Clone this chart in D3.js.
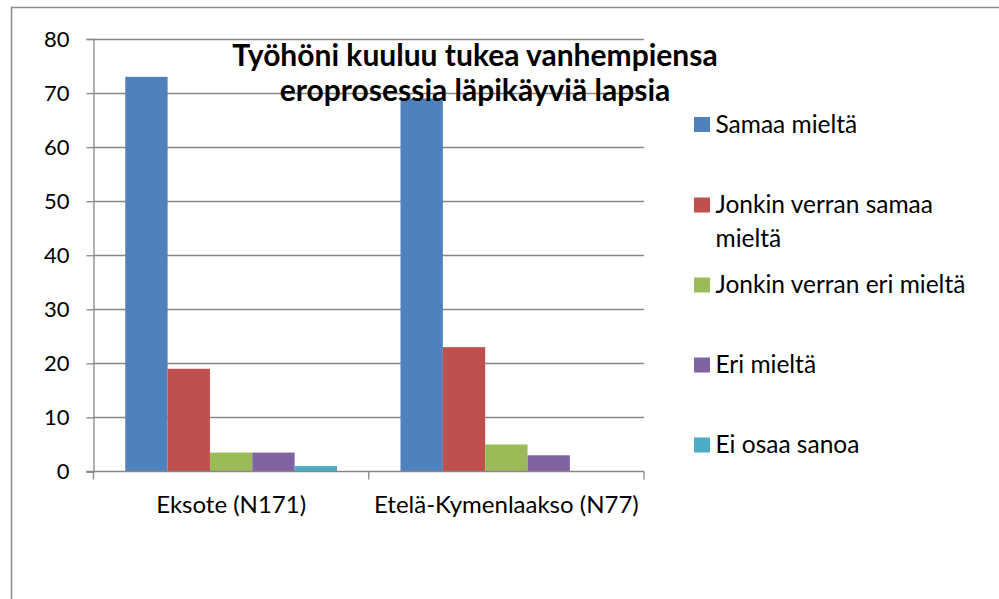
<!DOCTYPE html>
<html><head><meta charset="utf-8">
<script src="https://cdn.jsdelivr.net/npm/d3@7"></script>
<style>body{margin:0;background:#fff}svg{display:block}</style>
</head><body><svg id="c" width="999" height="599"></svg>
<script>
const categories = ["Eksote (N171)", "Etelä-Kymenlaakso (N77)"];
const seriesNames = ["Samaa mieltä", "Jonkin verran samaa mieltä", "Jonkin verran eri mieltä", "Eri mieltä", "Ei osaa sanoa"];
const eksoteValues = [73, 19, 3.5, 3.5, 1];
const etelaValues = [69, 23, 5, 3, 0];
const yTickValues = [0, 10, 20, 30, 40, 50, 60, 70, 80];
const legendLines = [["Samaa mieltä"], ["Jonkin verran samaa", "mieltä"], ["Jonkin verran eri mieltä"], ["Eri mieltä"], ["Ei osaa sanoa"]];
const titleLines = ["Työhöni kuuluu tukea vanhempiensa", "eroprosessia läpikäyviä lapsia"];
const colors = ["#4F81BD", "#C0504D", "#9BBB59", "#8064A2", "#4BACC6"];

(function () {
const valuesByCat = [eksoteValues, etelaValues];
const font = "Lato, 'Open Sans', sans-serif";
const svg = d3.select("#c");
const gray = "#878787";

// chart border
svg.append("rect").attr("x", 11.5).attr("y", 7.5).attr("width", 1100).attr("height", 700)
  .attr("fill", "#fff").attr("stroke", "#8a8a8a").attr("stroke-width", 1.5);

const pl = 93.5, pr = 644, pt = 39, pb = 471.5;
const x0 = d3.scaleBand().domain(categories).range([pl, pr]).paddingInner(0).paddingOuter(0);
const x1 = d3.scaleBand().domain(seriesNames).range([0, x0.bandwidth()]).paddingInner(0).paddingOuter(0.75);
const y = d3.scaleLinear().domain([0, 80]).range([pb, pt]);

// gridlines
svg.append("g").selectAll("line").data(yTickValues.filter(v => v > 0)).join("line")
  .attr("x1", pl).attr("x2", pr).attr("y1", d => Math.round(y(d)) + 0.5).attr("y2", d => Math.round(y(d)) + 0.5)
  .attr("stroke", gray).attr("stroke-width", 1.3);

// bars
const gCat = svg.append("g").selectAll("g").data(categories).join("g")
  .attr("transform", d => `translate(${x0(d)},0)`);
gCat.selectAll("rect").data((c, i) => valuesByCat[i].map((v, j) => ({ s: seriesNames[j], v, j })))
  .join("rect")
  .attr("x", d => x1(d.s)).attr("width", x1.bandwidth())
  .attr("y", d => y(d.v)).attr("height", d => pb - y(d.v))
  .attr("fill", d => colors[d.j]);

// y axis
const yAxis = d3.axisLeft(y).tickValues(yTickValues).tickSize(7).tickPadding(17).tickFormat(d3.format("d"));
const gy = svg.append("g").attr("transform", `translate(${pl},0)`).call(yAxis);
gy.select(".domain").attr("stroke", gray).attr("stroke-width", 1.3);
gy.selectAll(".tick line").attr("stroke", gray).attr("stroke-width", 1.3);
gy.selectAll(".tick text").attr("font-family", font).attr("font-size", 22).attr("fill", "#000");

// x axis line and boundary ticks
svg.append("line").attr("x1", pl - 7).attr("x2", pr).attr("y1", pb).attr("y2", pb)
  .attr("stroke", gray).attr("stroke-width", 1.3);
const bounds = categories.map(c => x0(c)).concat([x0.range()[1]]);
svg.append("g").selectAll("line").data(bounds).join("line")
  .attr("x1", d => d).attr("x2", d => d).attr("y1", pb).attr("y2", pb + 8)
  .attr("stroke", gray).attr("stroke-width", 1.3);
svg.append("g").selectAll("text").data(categories).join("text")
  .attr("x", d => x0(d) + x0.bandwidth() / 2).attr("y", 513)
  .attr("text-anchor", "middle").attr("font-family", font).attr("font-size", 24).attr("fill", "#000")
  .text(d => d);

// legend
const legendY = [124.5, 205, 285, 365, 445];
const lg = svg.append("g").selectAll("g").data(seriesNames).join("g")
  .attr("transform", (d, i) => `translate(694,${legendY[i]})`);
lg.append("rect").attr("x", 0).attr("y", -7.5).attr("width", 16).attr("height", 15).attr("fill", (d, i) => colors[i]);
lg.each(function (d, i) {
  const t = d3.select(this).append("text").attr("font-family", font).attr("font-size", 24.5).attr("fill", "#000");
  legendLines[i].forEach((ln, k) => {
    t.append("tspan").attr("x", 21.5).attr("y", 8 + k * 33.5).text(ln);
  });
});

// title (drawn on top)
svg.append("g").selectAll("text").data(titleLines).join("text")
  .attr("x", 475).attr("y", (d, i) => 66 + i * 35)
  .attr("text-anchor", "middle").attr("font-family", font).attr("font-weight", "bold")
  .attr("font-size", 30).attr("fill", "#000").text(d => d);
})();
</script></body></html>
